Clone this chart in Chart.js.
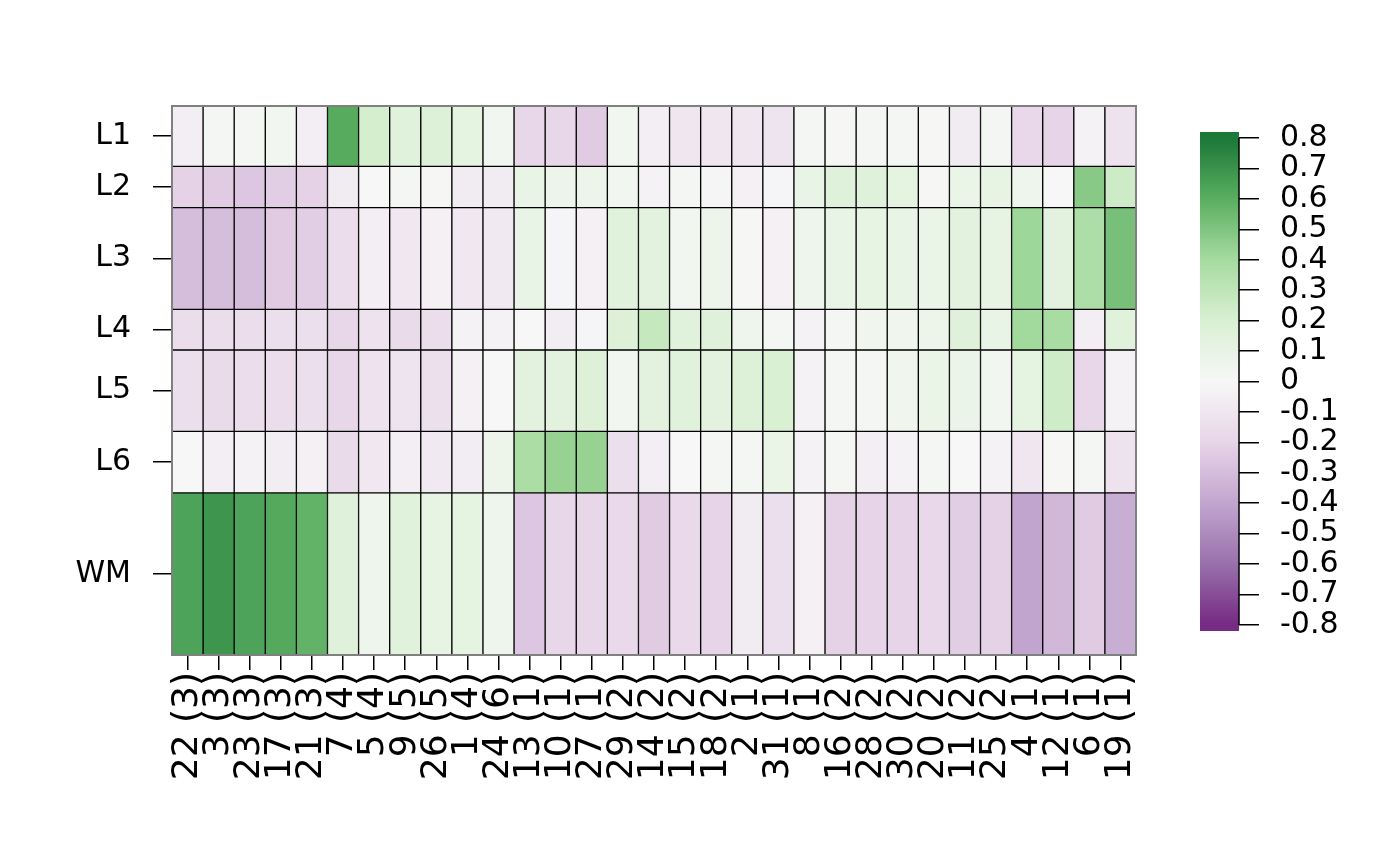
<!DOCTYPE html>
<html>
<head>
<meta charset="utf-8">
<script src="https://cdn.jsdelivr.net/npm/chart.js@4.4.1/dist/chart.umd.min.js"></script>
<style>
  html, body { margin: 0; padding: 0; background: #ffffff; }
  #wrap { position: relative; width: 1400px; height: 866px; background: #ffffff; overflow: hidden; }
  #wrap canvas { position: absolute; left: 0; top: 0; }
</style>
</head>
<body>
<div id="wrap">
  <canvas id="heat" width="1400" height="778"></canvas>
  <canvas id="bar" width="1400" height="866"></canvas>
</div>
<script>
// ---------------- data ----------------
const columns = ['22 (3)', '3 (3)', '23 (3)', '17 (3)', '21 (3)', '7 (4)', '5 (4)', '9 (5)', '26 (5)', '1 (4)',
  '24 (6)', '13 (1)', '10 (1)', '27 (1)', '29 (2)', '14 (2)', '15 (2)', '18 (2)', '2 (1)', '31 (1)', '8 (1)',
  '16 (2)', '28 (2)', '30 (2)', '20 (2)', '11 (2)', '25 (2)', '4 (1)', '12 (1)', '6 (1)', '19 (1)'];
const rows = ['L1', 'L2', 'L3', 'L4', 'L5', 'L6', 'WM'];
const rowThickness = [0.11, 0.075, 0.185, 0.074, 0.148, 0.112, 0.295];

const L1 = [-0.05, 0.02, 0.03, 0.04, -0.05, 0.61, 0.22, 0.15, 0.18, 0.12, 0.04, -0.19, -0.19, -0.24, 0.04, -0.05,
  -0.1, -0.1, -0.1, -0.11, 0.03, 0.01, 0.03, 0.03, 0.01, -0.07, 0.03, -0.18, -0.2, -0.03, -0.12];
const L2 = [-0.21, -0.24, -0.26, -0.23, -0.21, -0.07, 0.0, 0.03, 0.01, -0.07, -0.07, 0.1, 0.07, 0.07, 0.04, -0.03,
  0.02, -0.01, -0.04, -0.02, 0.1, 0.16, 0.16, 0.12, 0.01, 0.09, 0.11, 0.06, 0.0, 0.48, 0.25];
const L3 = [-0.3, -0.3, -0.3, -0.24, -0.23, -0.15, -0.05, -0.09, -0.04, -0.09, -0.08, 0.1, -0.02, -0.04, 0.15, 0.14,
  0.04, 0.07, 0.01, -0.04, 0.06, 0.1, 0.11, 0.1, 0.09, 0.14, 0.11, 0.42, 0.14, 0.37, 0.52];
const L4 = [-0.15, -0.15, -0.15, -0.14, -0.14, -0.19, -0.12, -0.16, -0.15, -0.03, -0.03, 0.0, -0.06, -0.02, 0.17, 0.28,
  0.15, 0.16, 0.06, 0.02, -0.03, 0.02, 0.05, 0.05, 0.07, 0.16, 0.1, 0.41, 0.39, -0.05, 0.15];
const L5 = [-0.14, -0.16, -0.15, -0.15, -0.14, -0.19, -0.12, -0.11, -0.13, -0.04, 0.0, 0.14, 0.14, 0.17, 0.04, 0.14,
  0.15, 0.14, 0.18, 0.2, -0.03, 0.02, 0.02, 0.05, 0.09, 0.08, 0.04, 0.12, 0.24, -0.19, -0.03];
const L6 = [0.0, -0.05, -0.03, -0.06, -0.04, -0.16, -0.09, -0.05, -0.08, -0.06, 0.07, 0.38, 0.44, 0.44, -0.14, -0.05,
  0.0, 0.02, 0.02, 0.09, -0.03, 0.03, -0.05, -0.03, 0.03, 0.0, -0.03, -0.1, 0.01, 0.03, -0.12];
const WM = [0.64, 0.69, 0.64, 0.62, 0.58, 0.16, 0.06, 0.15, 0.11, 0.12, 0.06, -0.26, -0.19, -0.19, -0.17, -0.24,
  -0.17, -0.2, -0.07, -0.14, -0.04, -0.21, -0.2, -0.2, -0.18, -0.23, -0.21, -0.4, -0.32, -0.24, -0.36];

const colorbarTicks = [-0.8, -0.7, -0.6, -0.5, -0.4, -0.3, -0.2, -0.1, 0, 0.1, 0.2, 0.3, 0.4, 0.5, 0.6, 0.7, 0.8];
const colorbarLabels = ['-0.8', '-0.7', '-0.6', '-0.5', '-0.4', '-0.3', '-0.2', '-0.1', '0', '0.1', '0.2', '0.3', '0.4', '0.5', '0.6', '0.7', '0.8'];
const colorbarRange = [-0.82, 0.82];

// PRGn palette anchors
const paletteStops = [-0.8, -0.6, -0.4, -0.2, 0, 0.2, 0.4, 0.6, 0.8];
const palette = ['#762a83', '#9970ab', '#c2a5cf', '#e7d4e8', '#f7f7f7', '#d9f0d3', '#a6dba0', '#5aae61', '#1b7837'];

// ---------------- helpers ----------------
const values = [L1, L2, L3, L4, L5, L6, WM];
function hexRgb(h) { return [parseInt(h.slice(1, 3), 16), parseInt(h.slice(3, 5), 16), parseInt(h.slice(5, 7), 16)]; }
const paletteRgb = palette.map(hexRgb);
function colorFor(v) {
  const n = paletteStops.length;
  if (v <= paletteStops[0]) return palette[0];
  if (v >= paletteStops[n - 1]) return palette[n - 1];
  let i = 0;
  while (i < n - 2 && v > paletteStops[i + 1]) i++;
  const t = (v - paletteStops[i]) / (paletteStops[i + 1] - paletteStops[i]);
  const a = paletteRgb[i], b = paletteRgb[i + 1];
  const c = a.map((x, k) => Math.round(x + (b[k] - x) * t));
  return 'rgb(' + c.join(',') + ')';
}

const rowLo = [], rowHi = [], rowMid = [];
let acc = 0;
rowThickness.forEach(h => { rowLo.push(acc); rowHi.push(acc + h); rowMid.push(acc + h / 2); acc += h; });
const total = acc;

Chart.defaults.font.family = "'DejaVu Sans', sans-serif";
Chart.defaults.color = '#000';
Chart.defaults.devicePixelRatio = 1;

// ---------------- heatmap ----------------
const boxPlugin = {
  id: 'box',
  afterDatasetsDraw(chart) {
    const a = chart.chartArea, ctx = chart.ctx;
    ctx.save();
    ctx.strokeStyle = '#808080';
    ctx.lineWidth = 2;
    ctx.strokeRect(a.left, a.top, a.right - a.left, a.bottom - a.top);
    ctx.restore();
  }
};

new Chart(document.getElementById('heat'), {
  type: 'bar',
  data: {
    labels: columns,
    datasets: rows.map((r, i) => ({
      label: r,
      data: columns.map(() => [rowLo[i], rowHi[i]]),
      backgroundColor: values[i].map(colorFor),
      borderColor: '#000',
      borderWidth: 1,
      borderSkipped: false,
      grouped: false,
      barPercentage: 1,
      categoryPercentage: 1
    }))
  },
  options: {
    responsive: false,
    animation: false,
    layout: { padding: { top: 106, right: 264, left: 0, bottom: 0 } },
    plugins: { legend: { display: false }, tooltip: { enabled: false } },
    scales: {
      x: {
        type: 'category',
        grid: { drawOnChartArea: false, drawTicks: true, tickLength: 15, color: '#000', lineWidth: 1.5, offset: false },
        border: { display: false },
        ticks: { autoSkip: false, minRotation: 90, maxRotation: 90, padding: 2, font: { size: 36 }, color: '#000' },
        afterFit(s) { s.height = 123; }
      },
      y: {
        type: 'linear',
        reverse: true,
        min: 0,
        max: total,
        grid: { drawOnChartArea: false, tickLength: 19, color: '#000', lineWidth: 1.5 },
        border: { display: false },
        ticks: { autoSkip: false, padding: 22, font: { size: 30 }, color: '#000', callback: (v, i) => rows[i] },
        afterBuildTicks(s) { s.ticks = rowMid.map(v => ({ value: v })); },
        afterFit(s) { s.width = 172; }
      }
    }
  },
  plugins: [boxPlugin]
});

// ---------------- colour bar ----------------
const axisLinePlugin = {
  id: 'cbaxis',
  afterDraw(chart) {
    const ys = chart.scales.y, ctx = chart.ctx;
    ctx.save();
    ctx.strokeStyle = '#000';
    ctx.lineWidth = 1.5;
    ctx.beginPath();
    ctx.moveTo(ys.left, ys.getPixelForValue(colorbarTicks[0]));
    ctx.lineTo(ys.left, ys.getPixelForValue(colorbarTicks[colorbarTicks.length - 1]));
    ctx.stroke();
    ctx.restore();
  }
};

new Chart(document.getElementById('bar'), {
  type: 'bar',
  data: {
    labels: [''],
    datasets: [{
      data: [colorbarRange],
      backgroundColor: (c) => {
        const ch = c.chart, ys = ch.scales.y;
        if (!ys || !ch.chartArea) return '#f7f7f7';
        const y0 = ys.getPixelForValue(colorbarRange[0]);
        const y1 = ys.getPixelForValue(colorbarRange[1]);
        const g = ch.ctx.createLinearGradient(0, y0, 0, y1);
        const steps = 64;
        for (let k = 0; k <= steps; k++) {
          const v = colorbarRange[0] + (colorbarRange[1] - colorbarRange[0]) * k / steps;
          g.addColorStop(k / steps, colorFor(v));
        }
        return g;
      },
      borderWidth: 0,
      barPercentage: 1,
      categoryPercentage: 1
    }]
  },
  options: {
    responsive: false,
    animation: false,
    layout: { padding: { top: 132, bottom: 235, left: 1200, right: 0 } },
    plugins: { legend: { display: false }, tooltip: { enabled: false } },
    scales: {
      x: { display: false },
      y: {
        position: 'right',
        min: colorbarRange[0],
        max: colorbarRange[1],
        grid: { drawOnChartArea: false, tickLength: 20, color: '#000', lineWidth: 1.5 },
        border: { display: false },
        ticks: { autoSkip: false, crossAlign: 'near', padding: 21, font: { size: 30 }, color: '#000', callback: (v, i) => colorbarLabels[i] },
        afterBuildTicks(s) { s.ticks = colorbarTicks.map(v => ({ value: v })); },
        afterFit(s) { s.width = 161; }
      }
    }
  },
  plugins: [axisLinePlugin]
});
</script>
</body>
</html>
